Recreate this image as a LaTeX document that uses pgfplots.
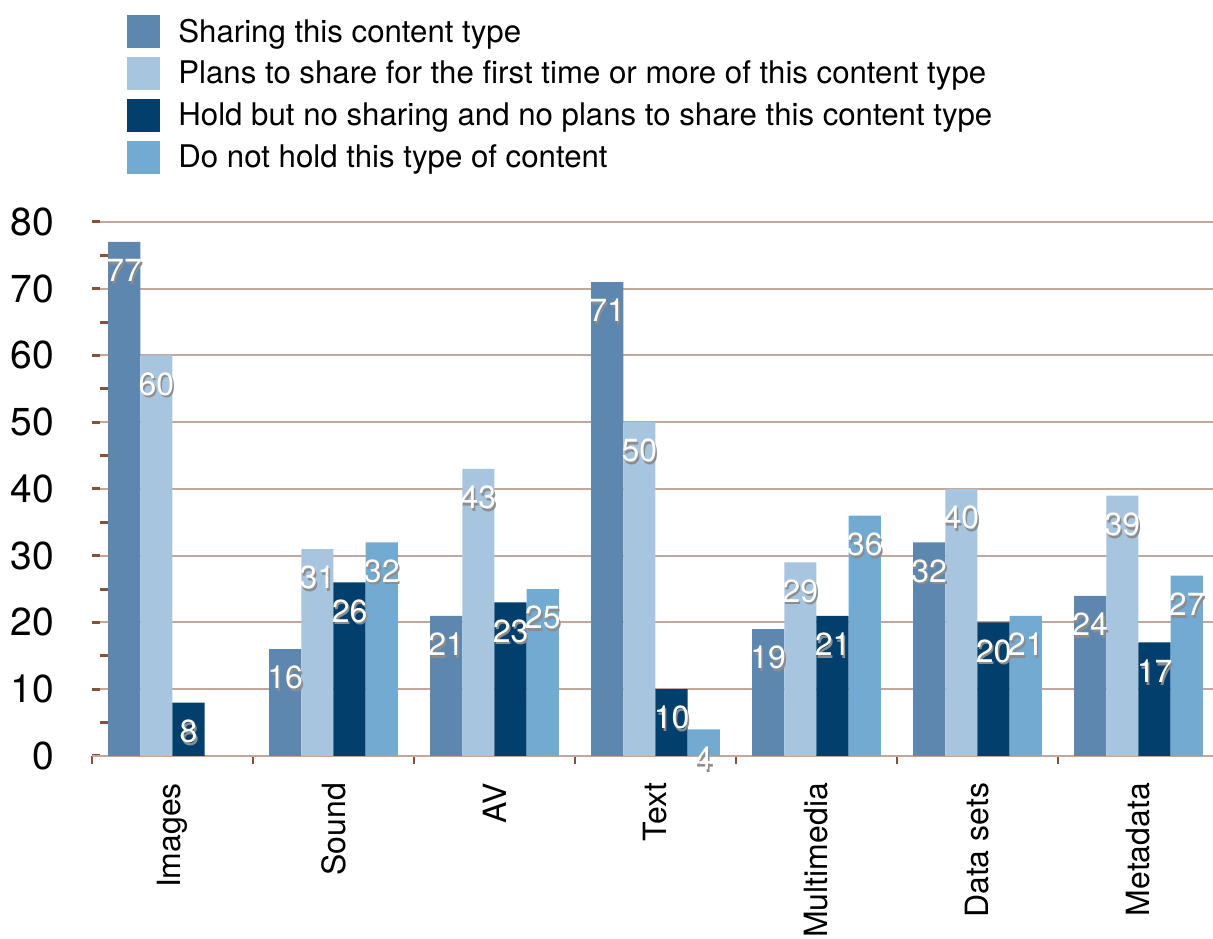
\documentclass[border=0pt]{standalone}
\usepackage{pgfplots}
\usepackage{pgfplotstable}
\pgfplotsset{compat=1.18}
\usepackage{fontspec}
\setmainfont{TeX Gyre Heros}
\definecolor{sA}{HTML}{5E87B0}
\definecolor{sB}{HTML}{A8C5DF}
\definecolor{sC}{HTML}{033F6D}
\definecolor{sD}{HTML}{72AAD2}
\definecolor{gridc}{HTML}{C2A89B}
\definecolor{tickc}{HTML}{86503A}
\newcommand\shlabel[1]{\makebox[0pt][c]{\hspace{1.6pt}\raisebox{-1.4pt}{\textcolor{black!45}{#1}}}\makebox[0pt][c]{\textcolor{white}{#1}}}
\pgfplotstableread{
x s1 s2 s3 s4
0 77 60 8 nan
1 16 31 26 32
2 21 43 23 25
3 71 50 10 4
4 19 29 21 36
5 32 40 20 21
6 24 39 17 27
}\datatab
\begin{document}
\begin{tikzpicture}
\begin{axis}[
  scale only axis,
  width=563.5pt, height=267pt,
  xmin=-0.5, xmax=6.5, ymin=0, ymax=80,
  ybar=0pt, bar width=0.2,
  axis x line*=bottom, axis y line*=left,
  y axis line style={draw=none},
  x axis line style={draw=gridc, line width=1pt},
  xtick={0,...,6},
  xticklabels={Images,Sound,AV,Text,Multimedia,Data sets,Metadata},
  minor xtick={-0.5,0.5,...,6.5},
  ytick={0,10,...,80},
  minor ytick={5,15,...,75},
  tick align=outside,
  major tick length=4pt, minor tick length=4pt,
  x tick style={draw=none},
  minor x tick style={draw=tickc, line width=1.2pt},
  y tick style={draw=tickc, line width=1.5pt, xshift=4pt},
  minor y tick style={draw=tickc, line width=1.5pt, xshift=4pt},
  ymajorgrids, major grid style={draw=gridc, line width=1pt},
  /pgf/number format/assume math mode=true,
  yticklabel style={font=\fontsize{19.5}{22}\selectfont, xshift=-11.5pt},
  xticklabel style={font=\fontsize{16}{19}\selectfont, rotate=90, anchor=east, xshift=-6pt},
  clip=false,
  legend style={draw=none, fill=none, at={(rel axis cs:0.0311,1.3876)}, anchor=north west,
    inner sep=0pt, row sep=4.5pt, font=\fontsize{15.6}{18}\selectfont,
    nodes={inner sep=0pt, anchor=west},
    /tikz/every odd column/.append style={column sep=9pt}},
  legend cell align=left,
  legend image code/.code={\fill[#1] (0pt,-8.25pt) rectangle (16.5pt,8.25pt);},
  every node near coord/.append style={anchor=center, yshift=-15pt, font=\fontsize{16}{19}\selectfont},
]
\addplot[fill=sA, draw=none, bar shift=-0.3] table[x=x,y=s1]{\datatab};
\addplot[fill=sB, draw=none, bar shift=-0.1] table[x=x,y=s2]{\datatab};
\addplot[fill=sC, draw=none, bar shift=0.1] table[x=x,y=s3]{\datatab};
\addplot[fill=sD, draw=none, bar shift=0.3] table[x=x,y=s4]{\datatab};
\legend{Sharing this content type,Plans to share for the first time or more of this content type,Hold but no sharing and no plans to share this content type,Do not hold this type of content}
\addplot[draw=none, fill=none, bar shift=-0.3, forget plot, nodes near coords={\shlabel{\pgfmathprintnumber{\pgfplotspointmeta}}}] table[x=x,y=s1]{\datatab};
\addplot[draw=none, fill=none, bar shift=-0.1, forget plot, nodes near coords={\shlabel{\pgfmathprintnumber{\pgfplotspointmeta}}}] table[x=x,y=s2]{\datatab};
\addplot[draw=none, fill=none, bar shift=0.1, forget plot, nodes near coords={\shlabel{\pgfmathprintnumber{\pgfplotspointmeta}}}] table[x=x,y=s3]{\datatab};
\addplot[draw=none, fill=none, bar shift=0.3, forget plot, nodes near coords={\shlabel{\pgfmathprintnumber{\pgfplotspointmeta}}}] table[x=x,y=s4]{\datatab};
\coordinate (bl) at (rel axis cs:-0.0816,-0.3427);
\coordinate (tr) at (rel axis cs:0.9947,1.4157);
\end{axis}
\pgfresetboundingbox
\path[use as bounding box] (bl) rectangle (tr);
\end{tikzpicture}
\end{document}
